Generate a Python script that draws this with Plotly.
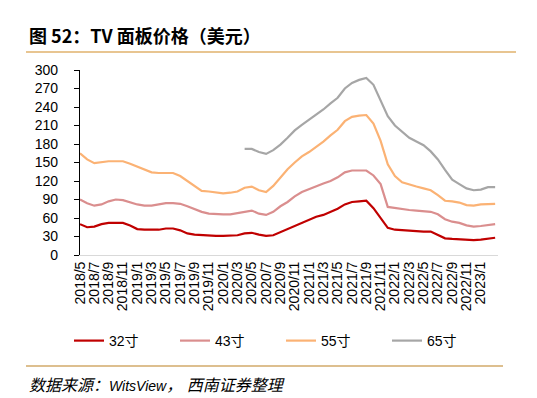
import plotly.graph_objects as go

months = ["2018/5","2018/6","2018/7","2018/8","2018/9","2018/10","2018/11","2018/12",
          "2019/1","2019/2","2019/3","2019/4","2019/5","2019/6","2019/7","2019/8","2019/9","2019/10","2019/11","2019/12",
          "2020/1","2020/2","2020/3","2020/4","2020/5","2020/6","2020/7","2020/8","2020/9","2020/10","2020/11","2020/12",
          "2021/1","2021/2","2021/3","2021/4","2021/5","2021/6","2021/7","2021/8","2021/9","2021/10","2021/11","2021/12",
          "2022/1","2022/2","2022/3","2022/4","2022/5","2022/6","2022/7","2022/8","2022/9","2022/10","2022/11","2022/12",
          "2023/1","2023/2","2023/3"]

s32 = [50,45,46,50,52,52,52,48,42,41,41,41,43,43,40,35,33,32,32,31,31,
       31,32,35,36,33,31,32,37,42,47,53,58,62,65,70,75,82,86,87,88,
       76,60,44,41,40,39,38,38,38,33,27,26,25,25,24,25,27,28]
s43 = [90,84,80,82,87,90,89,85,82,80,80,82,84,84,83,79,74,70,67,66,66,
       66,68,71,72,67,65,70,79,86,95,102,107,112,116,120,126,134,137,137,137,
       129,115,78,76,74,73,72,71,70,66,58,54,52,48,46,47,49,50]
s55 = [165,155,149,151,152,152,152,148,143,138,134,133,133,133,128,120,111,104,103,102,100,
       101,103,109,111,105,102,112,126,139,150,160,167,175,184,194,203,217,224,226,227,
       213,185,147,128,118,114,111,108,105,97,88,87,85,81,80,82,83,83]
s65 = [None]*23 + [172,172,167,164,170,179,190,202,211,219,227,236,246,255,270,279,284,287,
                   276,249,225,210,200,190,184,178,168,155,138,122,115,108,105,106,110,110]

series_names = ["32寸", "43寸", "55寸", "65寸"]
series_vals = [s32, s43, s55, s65]
colors = ["#C00000", "#DA8E8E", "#FBB274", "#A6A6A6"]

yticks = [0, 30, 60, 90, 120, 150, 180, 210, 240, 270, 300]
tick_months = months[:57:2]

W, H = 537, 398
L, R, T, B = 72, 47, 62, 151
PW, PH = W - L - R, H - T - B

def px(x):
    return (x - L) / PW

def py(y):
    return (H - B - y) / PH

x_idx = list(range(len(months)))
fig = go.Figure()
for name, vals, c in zip(series_names, series_vals, colors):
    fig.add_trace(go.Scatter(x=x_idx, y=vals, name=name, mode="lines",
                             line=dict(color=c, width=2.2), connectgaps=False))

fig.update_layout(
    width=W, height=H,
    margin=dict(l=L, r=R, t=T, b=B, pad=0),
    paper_bgcolor="white", plot_bgcolor="white",
    font=dict(family="Liberation Sans, Arial, sans-serif", size=14, color="#000"),
    showlegend=True,
    legend=dict(orientation="h", x=px(61), y=py(333), xanchor="left", yanchor="middle",
                font=dict(size=14, family="Liberation Sans, Noto Sans CJK SC"),
                entrywidth=61, itemwidth=30, bgcolor="rgba(0,0,0,0)"),
)
fig.update_xaxes(range=[0, 58.4], tickmode="array",
                 tickvals=[months.index(m) for m in tick_months], ticktext=tick_months, tickangle=-90,
                 showline=True, linecolor="#D9D9D9", linewidth=1, ticks="",
                 showgrid=False, zeroline=False, tickfont=dict(size=14))
fig.update_yaxes(range=[0, 300], tickmode="array", tickvals=yticks,
                 showline=True, linecolor="#000", linewidth=1.3, ticks="outside",
                 ticklen=5, tickcolor="#000", showgrid=False, zeroline=False,
                 ticklabelstandoff=13, tickfont=dict(size=14))

fig.add_annotation(text="<b>图 52：TV 面板价格（美元）</b>", xref="paper", yref="paper",
                   x=px(19), y=py(27), xanchor="left", yanchor="middle", showarrow=False,
                   font=dict(size=18, family="Noto Sans CJK SC, Liberation Sans", color="#000"))
src = ('<i><span style="font-size:16px">数据来源：</span>WitsView'
       '<span style="font-size:16px">， 西南证券整理</span></i>')
fig.add_annotation(text=src, xref="paper", yref="paper",
                   x=px(19), y=py(377), xanchor="left", yanchor="middle", showarrow=False,
                   font=dict(size=14, family="Liberation Sans, Noto Sans CJK SC", color="#000"))
fig.add_shape(type="line", xref="paper", yref="paper", x0=px(18), x1=px(508), y0=py(44), y1=py(44),
              line=dict(color="#E0B26C", width=1.5))
fig.add_shape(type="line", xref="paper", yref="paper", x0=px(18), x1=px(495), y0=py(358), y1=py(358),
              line=dict(color="#D2AA6A", width=1.5))

fig.write_html("out.html")
